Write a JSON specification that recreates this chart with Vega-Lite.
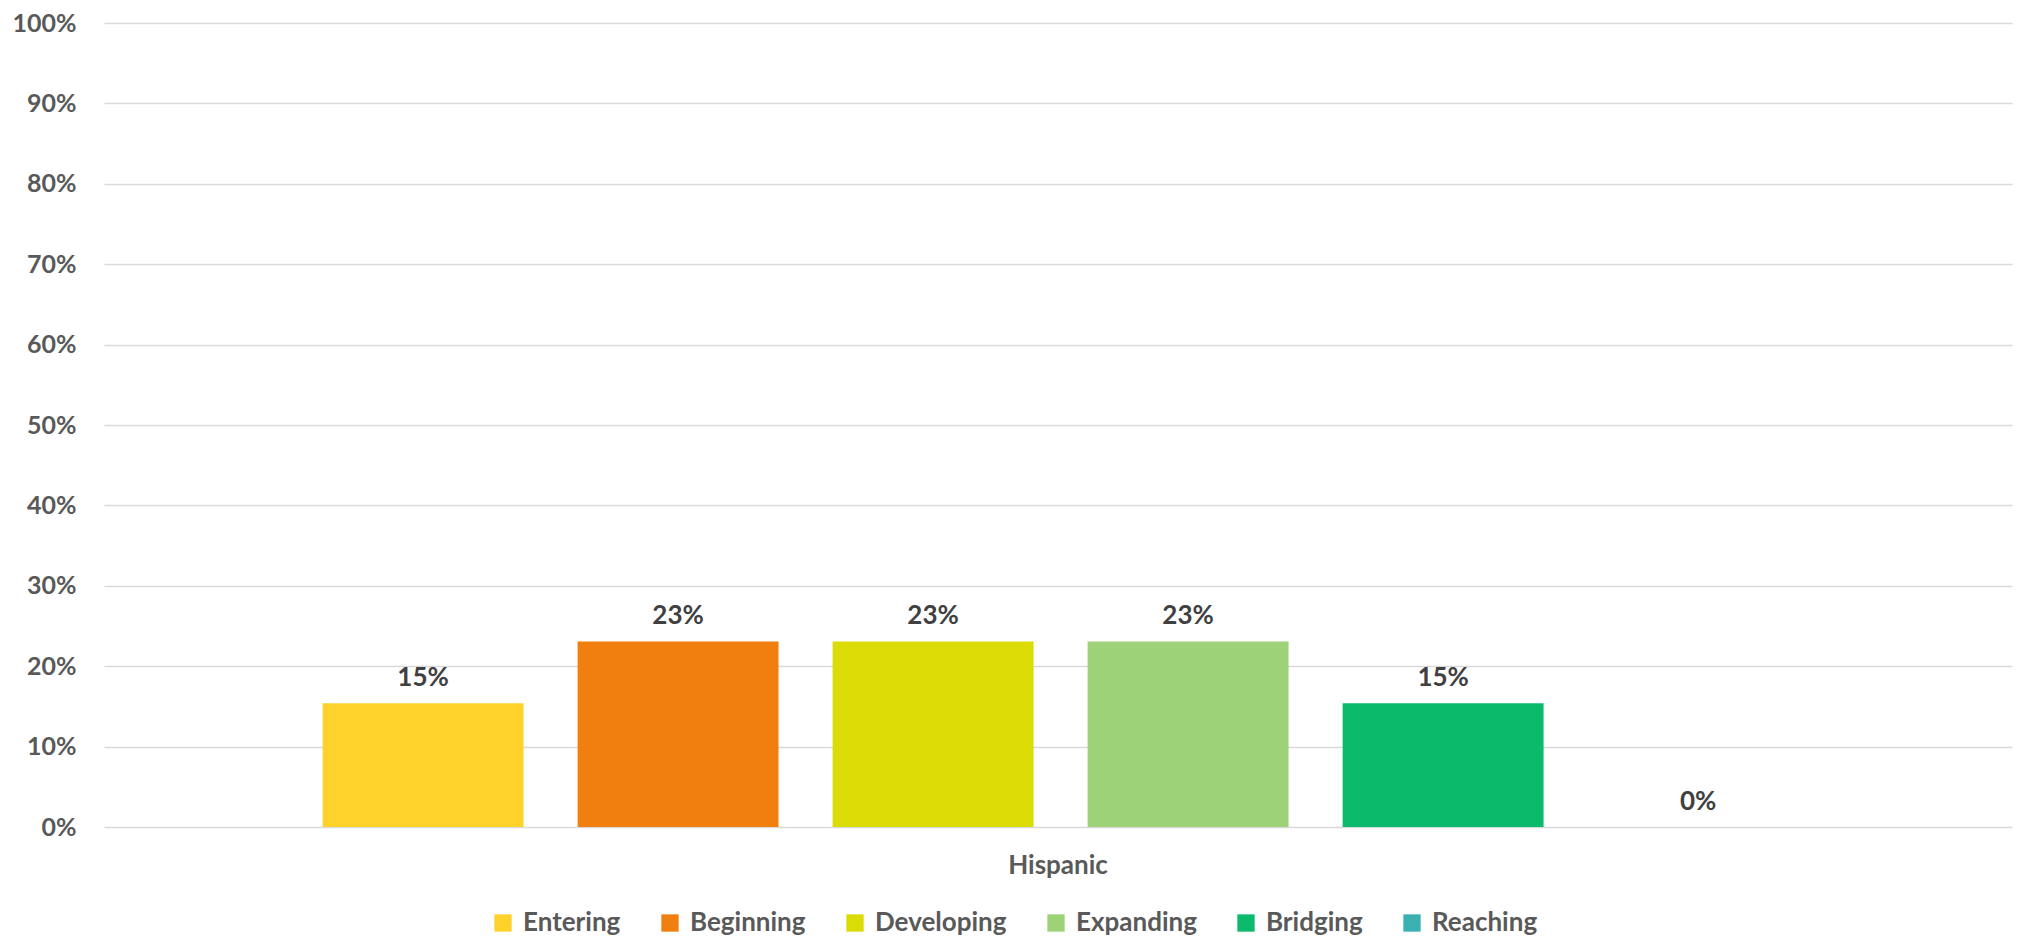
{
  "$schema": "https://vega.github.io/schema/vega-lite/v6.json",
  "width": 1908,
  "height": 804,
  "autosize": {"type": "none"},
  "padding": {"left": 104, "top": 23, "right": 18, "bottom": 111},
  "background": "white",
  "config": {
    "view": {"stroke": null},
    "font": "Lato",
    "text": {"font": "Lato"}
  },
  "data": {
    "values": [
      {"group": "Hispanic", "level": "Entering", "pct": 0.1538},
      {"group": "Hispanic", "level": "Beginning", "pct": 0.2308},
      {"group": "Hispanic", "level": "Developing", "pct": 0.2308},
      {"group": "Hispanic", "level": "Expanding", "pct": 0.2308},
      {"group": "Hispanic", "level": "Bridging", "pct": 0.1538},
      {"group": "Hispanic", "level": "Reaching", "pct": 0}
    ]
  },
  "encoding": {
    "x": {
      "field": "group",
      "type": "nominal",
      "scale": {"paddingInner": 0, "paddingOuter": 0},
      "axis": {
        "title": null,
        "labelAngle": 0,
        "labelFont": "Lato",
        "labelFontSize": 26,
        "labelFontWeight": "bold",
        "labelColor": "#595959",
        "labelPadding": 25,
        "ticks": false,
        "domain": false
      }
    },
    "xOffset": {
      "field": "level",
      "type": "nominal",
      "sort": ["Entering", "Beginning", "Developing", "Expanding", "Bridging", "Reaching"],
      "scale": {"paddingInner": 0.212, "paddingOuter": 0.847, "align": 0.506}
    },
    "y": {
      "field": "pct",
      "type": "quantitative",
      "scale": {"domain": [0, 1]},
      "axis": {
        "title": null,
        "values": [0, 0.1, 0.2, 0.3, 0.4, 0.5, 0.6, 0.7, 0.8, 0.9, 1],
        "format": ".0%",
        "labelFont": "Lato",
        "labelFontSize": 25,
        "labelFontWeight": "bold",
        "labelColor": "#595959",
        "labelPadding": 28,
        "ticks": false,
        "domain": false,
        "grid": true,
        "gridColor": "#d9d9d9",
        "gridWidth": 1.5
      }
    }
  },
  "layer": [
    {
      "mark": {"type": "bar"},
      "encoding": {
        "color": {
          "field": "level",
          "type": "nominal",
          "sort": ["Entering", "Beginning", "Developing", "Expanding", "Bridging", "Reaching"],
          "scale": {
            "domain": ["Entering", "Beginning", "Developing", "Expanding", "Bridging", "Reaching"],
            "range": ["#FFD22B", "#F07F10", "#DBDB05", "#9DD279", "#0BBA6B", "#3AB0B0"]
          },
          "legend": {
            "title": null,
            "orient": "none",
            "direction": "horizontal",
            "legendX": 386,
            "legendY": 887,
            "symbolType": "square",
            "symbolSize": 300,
            "symbolStrokeWidth": 0,
            "labelFont": "Lato",
            "labelFontSize": 26,
            "labelFontWeight": "bold",
            "labelColor": "#595959",
            "labelOffset": 7,
            "columnPadding": 36
          }
        }
      }
    },
    {
      "mark": {
        "type": "text",
        "baseline": "alphabetic",
        "dy": -17,
        "font": "Lato",
        "fontSize": 26,
        "fontWeight": "bold",
        "color": "#404040"
      },
      "encoding": {
        "text": {"field": "pct", "type": "quantitative", "format": ".0%"}
      }
    }
  ]
}
